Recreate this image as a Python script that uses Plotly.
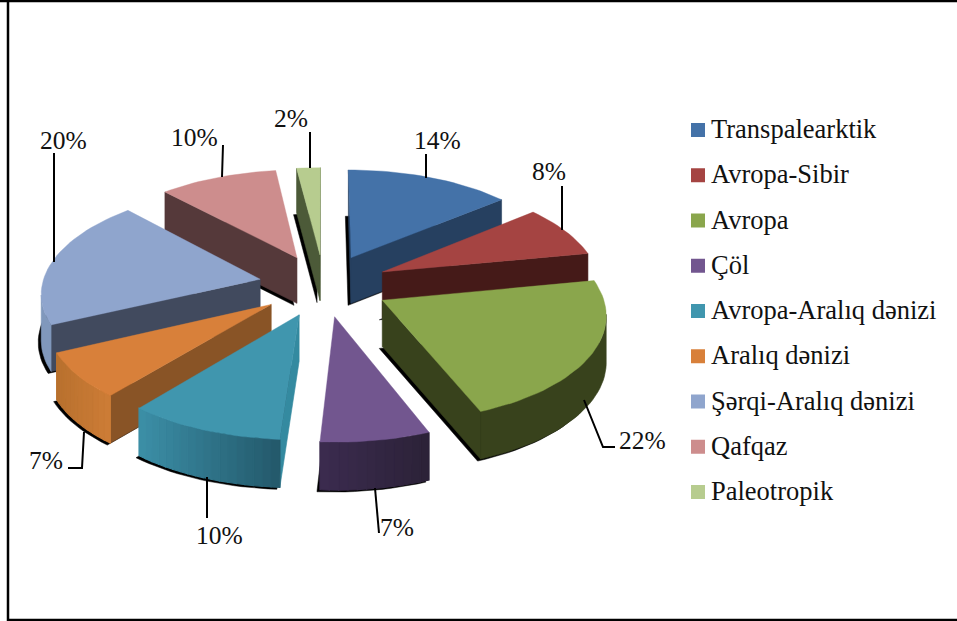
import math
import plotly.graph_objects as go

categories = ["Transpalearktik", "Avropa-Sibir", "Avropa", "Çöl", "Avropa-Aralıq dənizi",
              "Aralıq dənizi", "Şərqi-Aralıq dənizi", "Qafqaz", "Paleotropik"]
values = [14, 8, 22, 7, 10, 7, 20, 10, 2]

top_colors = ["#4472a8", "#a54442", "#8aa64c", "#72568f", "#4096ae", "#d8803a", "#8fa5cd", "#cd8d8d", "#b7cc8f"]
radial_colors = ["#264060", "#451a18", "#38421c", "#33243f", "#348aa0", "#895426", "#414a5e", "#55393a", "#4c5a38"]
outer_left = ["#264060", "#451a18", "#38421c", "#3c2c50", "#3c90a8", "#b8702e", "#8098bc", "#55393a", "#4c5a38"]
outer_right = ["#264060", "#451a18", "#38421c", "#2c2238", "#245a6c", "#cc7c36", "#8098bc", "#55393a", "#4c5a38"]

SERIF = '"Liberation Serif", "Times New Roman", serif'
# projection of the tilted pie onto the page (pixels)
CX, CY, RX, RY, K, DEPTH, K_D, EXPLODE = 324, 285, 218, 103.5, 0.113, 46, 0.03, 0.30
W, H = 957, 621
SHADOW = (-3, 2)


def project(X, Y, z=0.0):
    s = 1 + K * Y
    return (CX + RX * X / s, CY - RY * Y / s + z * DEPTH / (1 + K_D * Y))


def rgb(c):
    return [int(c[i:i + 2], 16) for i in (1, 3, 5)]


def mix(a, b, t):
    a, b = rgb(a), rgb(b)
    return "rgb(%d,%d,%d)" % tuple(round(a[i] + (b[i] - a[i]) * t) for i in range(3))


def area(pts):
    return 0.5 * sum(pts[i][0] * pts[(i + 1) % len(pts)][1] - pts[(i + 1) % len(pts)][0] * pts[i][1]
                     for i in range(len(pts)))


def poly(pts, color, line=0.6):
    return go.Scatter(
        x=[p[0] for p in pts] + [pts[0][0]], y=[p[1] for p in pts] + [pts[0][1]],
        mode="lines", fill="toself", fillcolor=color,
        line=dict(color=color, width=line), hoverinfo="skip", showlegend=False)


total = sum(values)
slices = []
acc = 0
for i, v in enumerate(values):
    a0 = 2 * math.pi * acc / total
    a1 = 2 * math.pi * (acc + v) / total
    acc += v
    mid = (a0 + a1) / 2
    ax, ay = EXPLODE * math.sin(mid), EXPLODE * math.cos(mid)
    n = max(4, int(math.degrees(a1 - a0) / 2))
    rim = [(ax + math.sin(a0 + (a1 - a0) * j / n), ay + math.cos(a0 + (a1 - a0) * j / n)) for j in range(n + 1)]
    slices.append(dict(i=i, apex=(ax, ay), rim=rim, mid=mid))

fig = go.Figure()

# back-to-front painting
for s in sorted(slices, key=lambda q: -q["apex"][1]):
    i, apex, rim = s["i"], s["apex"], s["rim"]
    outline = [apex] + rim  # clockwise on screen
    top = [project(*p) for p in outline]
    bottom = [project(*p, 1.0) for p in outline]
    fig.add_trace(poly([(x + SHADOW[0], y + SHADOW[1]) for x, y in bottom], "#000000", 0.5))
    ref = area(top)
    m = len(outline)
    x_all = [project(*p)[0] for p in rim]
    uniform = outer_left[i] == outer_right[i]
    run = []
    for j in range(m):
        a, b = outline[j], outline[(j + 1) % m]
        quad = [project(*a), project(*b), project(*b, 1.0), project(*a, 1.0)]
        if area(quad) * ref >= 0:
            continue
        if j == 0 or j == m - 1:
            fig.add_trace(poly(quad, radial_colors[i]))
        elif uniform:
            run.append((a, b))
        else:
            t = (quad[0][0] - min(x_all)) / max(1e-6, max(x_all) - min(x_all))
            fig.add_trace(poly(quad, mix(outer_left[i], outer_right[i], t), 1.2))
    if run:
        edge = [run[0][0]] + [q[1] for q in run]
        fig.add_trace(poly([project(*p) for p in edge] + [project(*p, 1.0) for p in reversed(edge)],
                           outer_left[i]))
    fig.add_trace(poly(top, top_colors[i], 0.4))

# legend: swatches and real text
rows = [130 + 45.25 * r for r in range(len(categories))]
fig.add_trace(go.Scatter(
    x=[698] * len(categories), y=rows, mode="markers",
    marker=dict(symbol="square", size=14, color=top_colors, line=dict(width=0)),
    hoverinfo="skip", showlegend=False, cliponaxis=False))
for name, row in zip(categories, rows):
    fig.add_annotation(x=710, y=row - 1, text=name, showarrow=False, xref="x", yref="y", xanchor="left",
                       xshift=-1, font=dict(family=SERIF, size=26.5, color="#111111"))

# leader lines and percentage labels
leaders = [
    [(426, 178), (426, 154)],
    [(562, 230), (562, 186)],
    [(584, 400), (603, 447), (615, 447)],
    [(375, 488), (379, 533)],
    [(207, 477), (207, 518)],
    [(84, 432), (82, 468), (68, 468)],
    [(54, 262), (54, 153)],
    [(222, 177), (223, 145)],
    [(310, 168), (310, 132)],
]
label_xy = [(437, 140), (549, 171), (642, 440), (397, 527), (219, 535), (46, 460), (63, 140), (194, 137), (291, 118)]
for pts, (lx, ly), v in zip(leaders, label_xy, values):
    fig.add_trace(go.Scatter(x=[p[0] for p in pts], y=[p[1] for p in pts], mode="lines",
                             line=dict(color="#000000", width=2), hoverinfo="skip", showlegend=False))
    fig.add_annotation(x=lx, y=ly, text=f"{v}%", showarrow=False, xref="x", yref="y",
                       font=dict(family=SERIF, size=25.5, color="#111111"))

# frame: left, top and bottom rules of the picture
frame = dict(type="line", line=dict(color="#000000", width=2.5), xref="x", yref="y")
fig.add_shape(x0=8, x1=8, y0=0, y1=621, **frame)
fig.add_shape(x0=0, x1=957, y0=1, y1=1, **frame)
fig.add_shape(x0=8, x1=957, y0=620, y1=620, **frame)

fig.update_layout(
    width=W, height=H, margin=dict(l=0, r=0, t=0, b=0),
    paper_bgcolor="white", plot_bgcolor="white", showlegend=False,
    xaxis=dict(range=[0, W], visible=False, fixedrange=True),
    yaxis=dict(range=[H, 0], visible=False, fixedrange=True),
)
fig.write_html("out.html", config=dict(displayModeBar=False),
               post_script="document.body.style.margin='0';document.documentElement.style.overflow='hidden';")
